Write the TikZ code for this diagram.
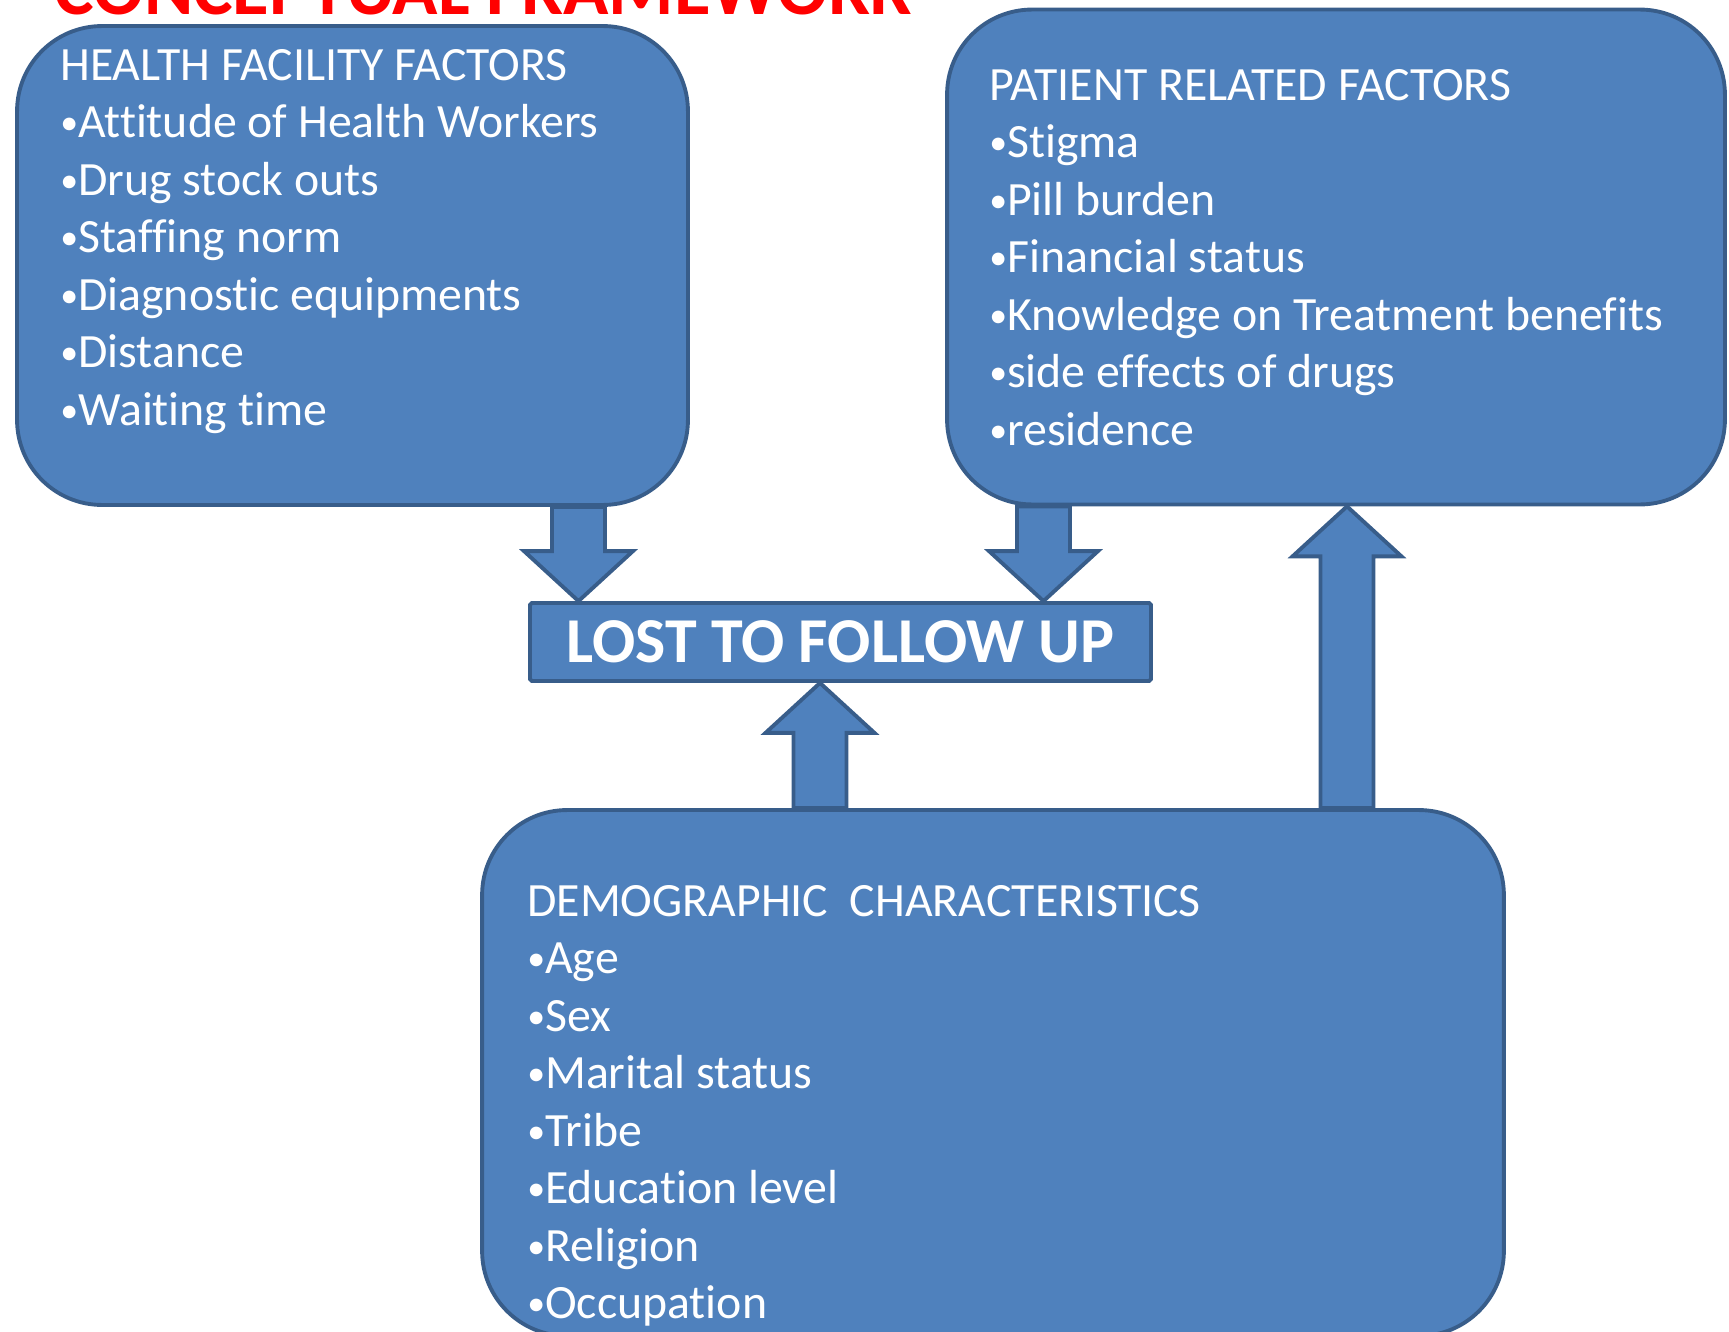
\documentclass[tikz,border=0pt]{standalone}
\usepackage{fontspec}
\setmainfont{Carlito}[Ligatures=NoCommon]
\usetikzlibrary{calc}

\definecolor{boxfill}{HTML}{4F81BD}
\definecolor{boxline}{HTML}{385D8A}

% smaller bullet in front of each entry
\newcommand{\blt}{\raisebox{0.12ex}{\scalebox{0.75}{\textbullet}}}

% block arrow: #1 tail, #2 tip, #3 = 1 points down, -1 points up
\newcommand{\blockarrow}[3]{%
  \draw[blockarr] ($(#1)+(-\shaft,0)$) -- ($(#2)+(-\shaft,#3*\headlen)$)
    -- ($(#2)+(-\headw,#3*\headlen)$) -- (#2)
    -- ($(#2)+(\headw,#3*\headlen)$) -- ($(#2)+(\shaft,#3*\headlen)$)
    -- ($(#1)+(\shaft,0)$) -- cycle;}

\begin{document}
\begin{tikzpicture}[x=0.02cm, y=-0.02cm,
  factorbox/.style={draw=boxline, fill=boxfill, line width=2.2pt,
    rounded corners=1.7cm, inner sep=0pt},
  ltfubox/.style={draw=boxline, fill=boxfill, line width=2.2pt,
    rounded corners=1pt, text=white, font=\bfseries\fontsize{36.4}{42}\selectfont},
  blockarr/.style={draw=boxline, fill=boxfill, line width=2.2pt, line join=miter},
  listtext/.style={text=white, font=\fontsize{27.2}{32}\selectfont,
    anchor=base west, inner sep=0pt}]

\useasboundingbox (0,0) rectangle (1729,1332);
\clip (0,0) rectangle (1729,1332);

\def\shaft{0.53cm}
\def\headw{1.09cm}
\def\headlen{1.0cm}
\def\lsk{57.5}  % line spacing

%--- Title ---
\node[anchor=base west, inner sep=0pt, text=red,
  font=\bfseries\fontsize{42.6}{50}\selectfont] (title) at (54,14) {CONCEPTUAL FRAMEWORK};

%--- Boxes ---
\node[factorbox, minimum width=13.42cm, minimum height=9.58cm] (hff) at (352.5,265.5) {};
\node[factorbox, minimum width=15.56cm, minimum height=9.9cm] (prf) at (1336,257) {};
\node[factorbox, minimum width=20.44cm, minimum height=10.52cm] (dem) at (993,1073) {};
\node[ltfubox, minimum width=12.42cm, minimum height=1.56cm] (ltfu) at (840.5,642) {LOST TO FOLLOW UP};

%--- Arrows ---
\coordinate (xa) at (578.5,0);
\coordinate (xb) at (1043.5,0);
\coordinate (xc) at (820,0);
\coordinate (xd) at (1347,0);
\blockarrow{xa |- hff.south}{xa |- ltfu.north}{1}
\blockarrow{xb |- prf.south}{xb |- ltfu.north}{1}
\blockarrow{xc |- dem.north}{xc |- ltfu.south}{-1}
\blockarrow{xd |- dem.north}{xd |- prf.south}{-1}

%--- Health facility factors ---
\node[listtext] (hffhead) at (60,80) {HEALTH FACILITY FACTORS};
\foreach \entry [count=\i] in {Attitude of Health Workers, Drug stock outs,
    Staffing norm, Diagnostic equipments, Distance, Waiting time}
  \node[listtext] (hff\i) at (60,80+\lsk*\i) {\blt\entry};

%--- Patient related factors ---
\node[listtext] (prfhead) at (989,100) {PATIENT RELATED FACTORS};
\foreach \entry [count=\i] in {Stigma, Pill burden, Financial status,
    Knowledge on Treatment benefits, side effects of drugs, residence}
  \node[listtext] (prf\i) at (989,100+\lsk*\i) {\blt\entry};

%--- Demographic characteristics ---
\node[listtext] (demhead) at (527,916) {DEMOGRAPHIC\ \ CHARACTERISTICS};
\foreach \entry [count=\i] in {Age, Sex, Marital status, Tribe,
    Education level, Religion, Occupation}
  \node[listtext] (dem\i) at (527,916+\lsk*\i) {\blt\entry};

\end{tikzpicture}
\end{document}
